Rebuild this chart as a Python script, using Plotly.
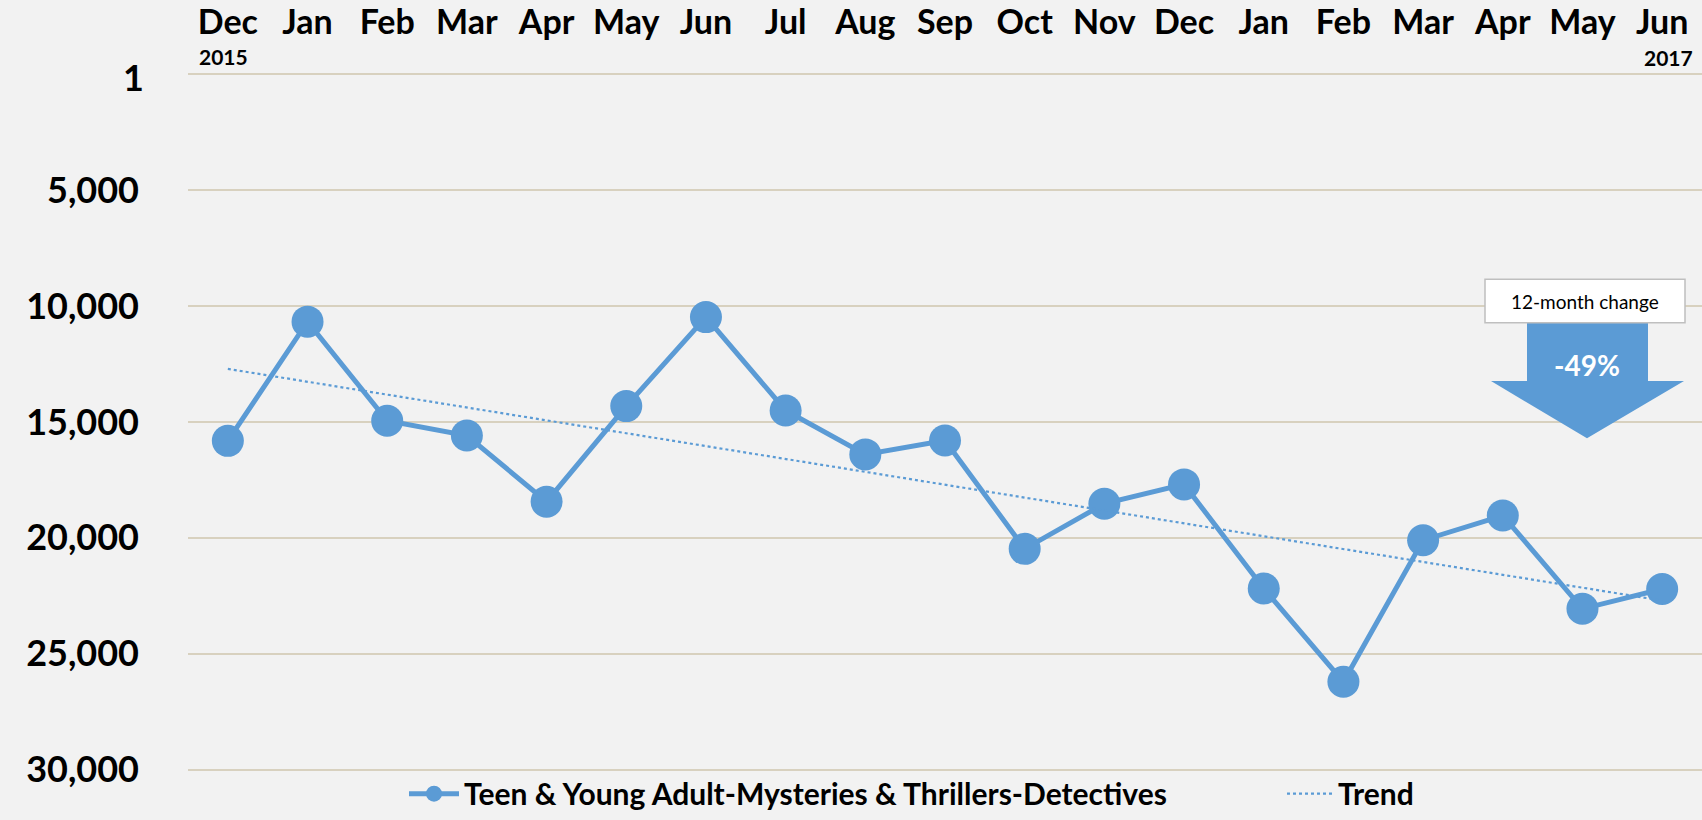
import numpy as np
import plotly.graph_objects as go

# ---- data ----
months = ["Dec", "Jan", "Feb", "Mar", "Apr", "May", "Jun", "Jul", "Aug", "Sep",
          "Oct", "Nov", "Dec", "Jan", "Feb", "Mar", "Apr", "May", "Jun"]
ranks = [15814, 10669, 14945, 15584, 18436, 14314, 10473, 14502, 16398, 15797,
         20473, 18525, 17694, 22183, 26211, 20102, 19037, 23061, 22208]
y_tick_values = [0, 5000, 10000, 15000, 20000, 25000, 30000]
y_tick_labels = ["1", "5,000", "10,000", "15,000", "20,000", "25,000", "30,000"]
start_year = "2015"
end_year = "2017"
series_name = "Teen & Young Adult-Mysteries & Thrillers-Detectives"
trend_name = "Trend"
callout_title = "12-month change"
callout_value = "-49%"

# ---- layout constants ----
W, H = 1702, 820
L, R, T, B = 188, 0, 73, 40
BLUE = "#5B9BD5"
BG = "#F2F2F2"
GRID = "#D8D1BF"
FONT = "Lato"

def px(xp):
    return (xp - L) / (W - L - R)

def py(yp):
    return (H - B - yp) / (H - T - B)

idx = np.arange(len(months))
coef = np.polyfit(idx, ranks, 1)
trend = np.polyval(coef, idx)

fig = go.Figure()
fig.add_trace(go.Scatter(
    x=idx, y=ranks, mode="lines+markers", name=series_name,
    line=dict(color=BLUE, width=5),
    marker=dict(color=BLUE, size=32),
    cliponaxis=False, legend="legend",
))
fig.add_trace(go.Scatter(
    x=idx, y=trend, mode="lines", name=trend_name,
    line=dict(color=BLUE, width=2.2, dash="dot"),
    legend="legend2",
))

# callout arrow
shaft_l, shaft_r = 1527, 1648
head_l, head_r = 1491, 1684
top_y, neck_y, tip_x, tip_y = 326, 385, 1587, 443
path = (f"M {px(shaft_l)},{py(top_y)} L {px(shaft_r)},{py(top_y)} "
        f"L {px(shaft_r)},{py(neck_y)} L {px(head_r)},{py(neck_y)} "
        f"L {px(tip_x)},{py(tip_y)} L {px(head_l)},{py(neck_y)} "
        f"L {px(shaft_l)},{py(neck_y)} Z")
shapes = [
    dict(type="path", path=path, xref="paper", yref="paper",
         fillcolor=BLUE, line=dict(width=0), layer="above"),
    dict(type="rect", xref="paper", yref="paper",
         x0=px(1485), x1=px(1685), y0=py(326), y1=py(282),
         fillcolor="white", line=dict(color="#BFBFBF", width=1.5), layer="above"),
]

annotations = [
    dict(text=f"<b>{y_tick_labels[0]}</b>", xref="paper", yref="paper",
         x=px(146), y=py(77), xanchor="right", yanchor="middle",
         showarrow=False, font=dict(family=FONT, size=36, color="black")),
    dict(text=f"<b>{start_year}</b>", xref="paper", yref="paper",
         x=px(197), y=py(56), xanchor="left", yanchor="middle",
         showarrow=False, font=dict(family=FONT, size=21, color="black")),
    dict(text=f"<b>{end_year}</b>", xref="paper", yref="paper",
         x=px(1695), y=py(57), xanchor="right", yanchor="middle",
         showarrow=False, font=dict(family=FONT, size=21, color="black")),
    dict(text=callout_title, xref="paper", yref="paper",
         x=px(1585), y=py(304), xanchor="center", yanchor="middle",
         showarrow=False, font=dict(family=FONT, size=19, color="black")),
    dict(text=f"<b>{callout_value}</b>", xref="paper", yref="paper",
         x=px(1587), y=py(369), xanchor="center", yanchor="middle",
         showarrow=False, font=dict(family=FONT, size=28, color="white")),
]

legend_font = dict(family=FONT, size=30, color="black", weight="bold")
fig.update_layout(
    width=W, height=H,
    margin=dict(l=L, r=R, t=T, b=B, pad=0),
    paper_bgcolor=BG, plot_bgcolor=BG,
    font=dict(family=FONT, color="black"),
    shapes=shapes, annotations=annotations,
    showlegend=True,
    legend=dict(
        orientation="h", x=px(404), xanchor="left", y=py(803), yanchor="middle",
        bgcolor="rgba(0,0,0,0)", font=legend_font, itemwidth=50,
    ),
    legend2=dict(
        orientation="h", x=px(1282), xanchor="left", y=py(803), yanchor="middle",
        bgcolor="rgba(0,0,0,0)", font=legend_font, itemwidth=46,
    ),
    xaxis=dict(
        side="top", range=[-0.5, len(months) - 0.5],
        tickvals=idx, ticktext=[f"<b>{m}</b>" for m in months],
        tickfont=dict(family=FONT, size=34, color="black"),
        showgrid=False, zeroline=False, showline=False, ticks="",
        ticklabelstandoff=31,
    ),
    yaxis=dict(
        range=[30060, -60], tickvals=y_tick_values,
        ticktext=[""] + [f"<b>{t}</b>" for t in y_tick_labels[1:]],
        tickfont=dict(family=FONT, size=36, color="black"),
        showgrid=True, gridcolor=GRID, gridwidth=1.5,
        zeroline=False, showline=False, ticks="",
        ticklabelstandoff=48,
    ),
)

fig.write_html(
    "out.html",
    config={"displayModeBar": False},
    post_script="document.body.style.margin='0px';document.body.style.overflow='hidden';",
)
